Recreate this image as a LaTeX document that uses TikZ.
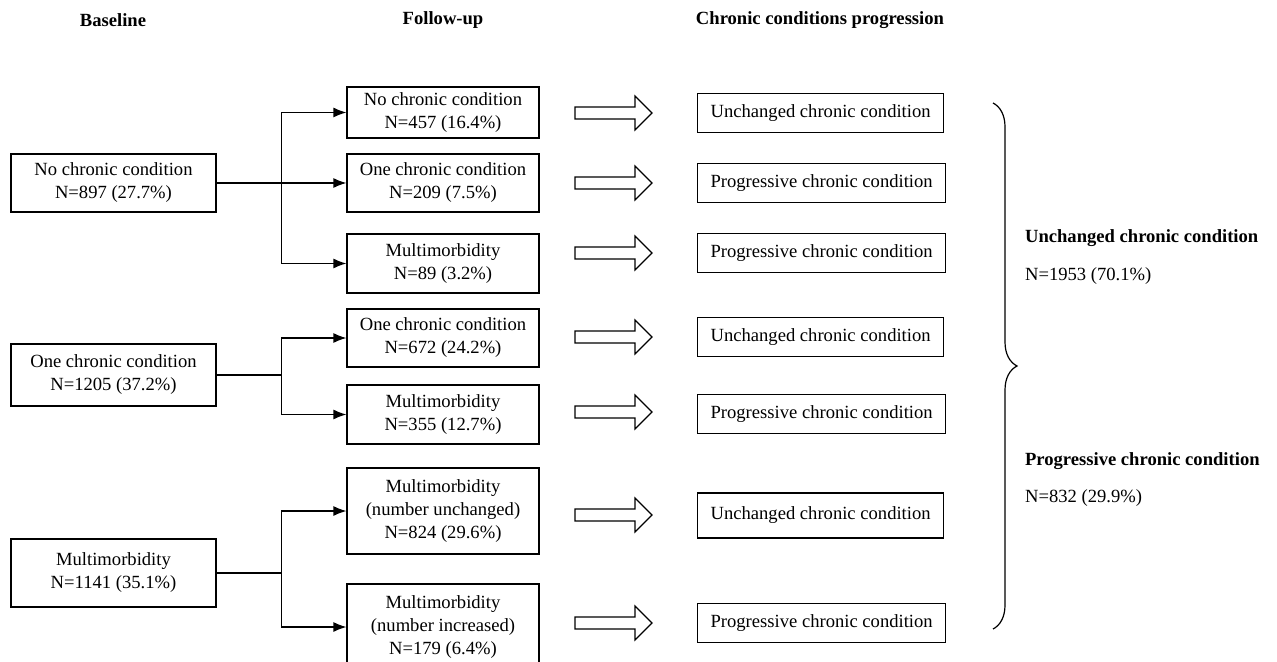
\documentclass[tikz,border=0pt]{standalone}
\usepackage{fontspec}
\setmainfont{Liberation Serif}
\usetikzlibrary{arrows.meta,decorations.pathreplacing}

\tikzset{
  box/.style={draw, line width=0.6pt, align=center, inner sep=0pt,
    font=\fontsize{9.3}{11.5}\selectfont},
  basebox/.style={box, minimum width=102.5pt},
  fupbox/.style={box, minimum width=96pt},
  outbox/.style={box, anchor=west, inner xsep=6.5pt, minimum height=19.5pt},
  head/.style={font=\fontsize{9.3}{11.5}\selectfont\bfseries},
  plain/.style={font=\fontsize{9.3}{11.5}\selectfont},
  flow/.style={line width=0.6pt, -{Latex[length=6.5pt,width=5pt]}},
  hollow/.style={line width=0.6pt},
}
\newcommand{\hollowarrow}[1]{%
  \draw[hollow] (575,#1) ++(0,-6) -- ++(60,0) -- ++(0,-11) -- ++(17,17)
    -- ++(-17,17) -- ++(0,-11) -- ++(-60,0) -- cycle;}

\begin{document}
\begin{tikzpicture}[x=0.5pt,y=-0.5pt]
	\useasboundingbox (0,0) rectangle (1277,662);
	% column titles
	\node[head] (hbase) at (113,20) {Baseline};
	\node[head] (hfup) at (443,20) {Follow-up};
	\node[head] (hprog) at (820,20) {Chronic conditions progression};
	% baseline
	\node[basebox, minimum height=29pt] (b1) at (113.5,183) {No chronic condition\\N=897 (27.7\%)};
	\node[basebox, minimum height=31pt] (b2) at (113.5,375) {One chronic condition\\N=1205 (37.2\%)};
	\node[basebox, minimum height=34pt] (b3) at (113.5,573) {Multimorbidity\\N=1141 (35.1\%)};
	% follow-up
	\node[fupbox, minimum height=25.5pt] (f1) at (443,112.5) {No chronic condition\\N=457 (16.4\%)};
	\node[fupbox, minimum height=29pt] (f2) at (443,183) {One chronic condition\\N=209 (7.5\%)};
	\node[fupbox, minimum height=29.5pt] (f3) at (443,263.5) {Multimorbidity\\N=89 (3.2\%)};
	\node[fupbox, minimum height=29pt] (f4) at (443,338) {One chronic condition\\N=672 (24.2\%)};
	\node[fupbox, minimum height=29.5pt] (f5) at (443,414.5) {Multimorbidity\\N=355 (12.7\%)};
	\node[fupbox, minimum height=43pt] (f6) at (443,511) {Multimorbidity\\(number unchanged)\\N=824 (29.6\%)};
	\node[fupbox, minimum height=43pt] (f7) at (443,627) {Multimorbidity\\(number increased)\\N=179 (6.4\%)};
	% progression
	\node[outbox] (r1) at (697,113) {Unchanged chronic condition};
	\node[outbox] (r2) at (697,183) {Progressive chronic condition};
	\node[outbox] (r3) at (697,253) {Progressive chronic condition};
	\node[outbox] (r4) at (697,337) {Unchanged chronic condition};
	\node[outbox] (r5) at (697,414) {Progressive chronic condition};
	\node[outbox, minimum height=22.5pt] (r6) at (697,515.5) {Unchanged chronic condition};
	\node[outbox] (r7) at (697,623) {Progressive chronic condition};
	% branches
	\draw[flow] (b1.east) -- ++(65,0) |- (f1.west);
	\draw[flow] (b1.east) -- (f2.west);
	\draw[flow] (b1.east) -- ++(65,0) |- (f3.west);
	\draw[flow] (b2.east) -- ++(65,0) |- (f4.west);
	\draw[flow] (b2.east) -- ++(65,0) |- (f5.west);
	\draw[flow] (b3.east) -- ++(65,0) |- (f6.west);
	\draw[flow] (b3.east) -- ++(65,0) |- (f7.west);
	% hollow arrows
	\hollowarrow{113}
	\hollowarrow{183}
	\hollowarrow{253}
	\hollowarrow{337}
	\hollowarrow{412}
	\hollowarrow{515}
	\hollowarrow{623}
	% brace and totals
	\coordinate (btop) at (993,103);
	\coordinate (bbot) at (993,629);
	\draw[line width=0.6pt, decorate, decoration={brace, amplitude=12pt}] (btop) -- (bbot);
	\node[head, anchor=west] (tunch) at (1018,238) {Unchanged chronic condition};
	\node[plain, anchor=west] (nunch) at (1018,276) {N=1953 (70.1\%)};
	\node[head, anchor=west] (tprog) at (1018,461) {Progressive chronic condition};
	\node[plain, anchor=west] (nprog) at (1018,498) {N=832 (29.9\%)};
\end{tikzpicture}
\end{document}
